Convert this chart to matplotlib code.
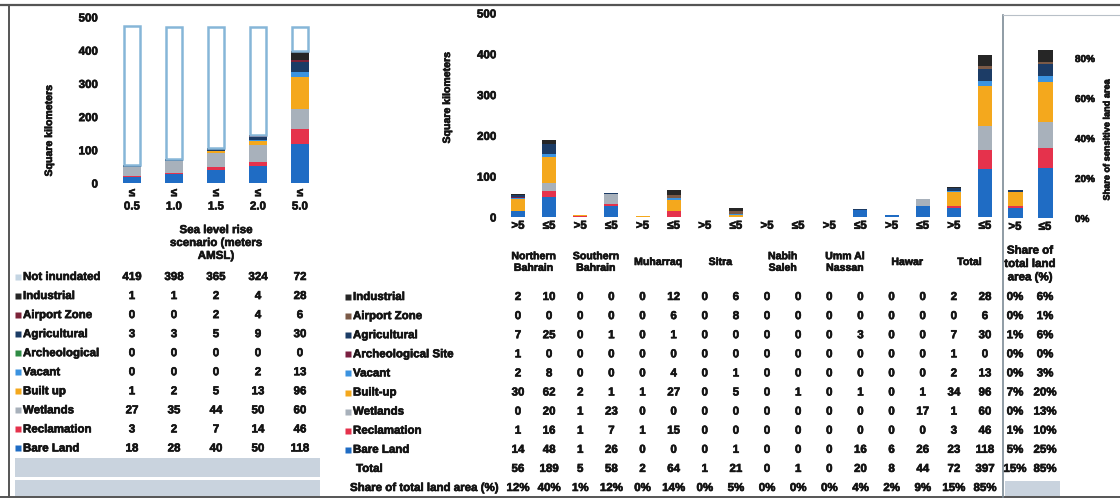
import matplotlib
matplotlib.use('Agg')
import matplotlib.pyplot as plt
import matplotlib.transforms as mtransforms
import matplotlib.patheffects as pe
import numpy as np

W, H = 1120, 500
plt.rcParams['font.family'] = ['Liberation Sans', 'DejaVu Sans']
plt.rcParams['font.weight'] = 'bold'
plt.rcParams['axes.labelweight'] = 'bold'
FS = 8.3
TXT = '#141414'
THICK = [pe.withStroke(linewidth=0.45, foreground=TXT)]

# ---------------- data: left panel (sea level rise scenarios) ----------------
scenarios = ['0.5', '1.0', '1.5', '2.0', '5.0']
scen_not_inundated = [419, 398, 365, 324, 72]
scen_industrial = [1, 1, 2, 4, 28]
scen_airport = [0, 0, 2, 4, 6]
scen_agricultural = [3, 3, 5, 9, 30]
scen_archeological = [0, 0, 0, 0, 0]
scen_vacant = [0, 0, 0, 2, 13]
scen_builtup = [1, 2, 5, 13, 96]
scen_wetlands = [27, 35, 44, 50, 60]
scen_reclamation = [3, 2, 7, 14, 46]
scen_bareland = [18, 28, 40, 50, 118]

# ---------------- data: middle panel (regions, >5 / <=5 m) ----------------
regions = ['Northern\nBahrain', 'Southern\nBahrain', 'Muharraq', 'Sitra',
           'Nabih\nSaleh', 'Umm Al\nNassan', 'Hawar', 'Total']
elev_labels = ['>5', '≤5']
reg_industrial = [2, 10, 0, 0, 0, 12, 0, 6, 0, 0, 0, 0, 0, 0, 2, 28]
reg_airport = [0, 0, 0, 0, 0, 6, 0, 8, 0, 0, 0, 0, 0, 0, 0, 6]
reg_agricultural = [7, 25, 0, 1, 0, 1, 0, 0, 0, 0, 0, 3, 0, 0, 7, 30]
reg_archeological = [1, 0, 0, 0, 0, 0, 0, 0, 0, 0, 0, 0, 0, 0, 1, 0]
reg_vacant = [2, 8, 0, 0, 0, 4, 0, 1, 0, 0, 0, 0, 0, 0, 2, 13]
reg_builtup = [30, 62, 2, 1, 1, 27, 0, 5, 0, 1, 0, 1, 0, 1, 34, 96]
reg_wetlands = [0, 20, 1, 23, 0, 0, 0, 0, 0, 0, 0, 0, 0, 17, 1, 60]
reg_reclamation = [1, 16, 1, 7, 1, 15, 0, 0, 0, 0, 0, 0, 0, 0, 3, 46]
reg_bareland = [14, 48, 1, 26, 0, 0, 0, 1, 0, 0, 0, 16, 6, 26, 23, 118]
reg_total = [56, 189, 5, 58, 2, 64, 1, 21, 0, 1, 0, 20, 8, 44, 72, 397]
reg_share = ['12%', '40%', '1%', '12%', '0%', '14%', '0%', '5%',
             '0%', '0%', '0%', '4%', '2%', '9%', '15%', '85%']

# ---------------- data: right panel (share of total land area, %) ----------------
sh_industrial = [0, 6]
sh_airport = [0, 1]
sh_agricultural = [1, 6]
sh_archeological = [0, 0]
sh_vacant = [0, 3]
sh_builtup = [7, 20]
sh_wetlands = [0, 13]
sh_reclamation = [1, 10]
sh_bareland = [5, 25]
sh_total = [15, 85]

# ---------------- colours ----------------
C_BARE = '#1f6cc4'
C_RECL = '#e5324c'
C_WET = '#a8b1bb'
C_BUILT = '#f4a81d'
C_VAC = '#3b93e0'
C_AGRI = '#1c3c66'
C_IND = '#262626'
C_ARCH_L = '#2f8c45'
C_AIRP_L = '#7c2338'
C_ARCH_M = '#7a1f40'
C_AIRP_M = '#7b5a47'
C_NOTIN = '#c4d5e3'
C_NOTIN_EDGE = '#86b6d8'
C_BAND = '#c9d3de'

fig = plt.figure(figsize=(W / 100, H / 100), dpi=100)


def ax_px(l, t, r, b):
    return fig.add_axes([l / W, 1 - b / H, (r - l) / W, (b - t) / H])


# overlay axes in pixel units (for frame and labels)
ov = ax_px(0, 0, W, H)
ov.set_xlim(0, W)
ov.set_ylim(H, 0)
ov.axis('off')
ov.set_zorder(-1)

# frame lines
ov.plot([0, W], [5, 5], color='#555555', lw=1.6)
ov.plot([9, 9], [5, 497], color='#555555', lw=1.4)
ov.plot([0, W], [497, 497], color='#555555', lw=1.4)
ov.plot([1003, 1003], [15, 497], color='#7d8b96', lw=1.2)
ov.plot([1003, W], [15, 15], color='#b8c0c8', lw=0.8)


def txt(x, y, s, **kw):
    kw.setdefault('fontsize', FS)
    kw.setdefault('color', TXT)
    t = ov.text(x, y, s, **kw)
    t.set_path_effects(THICK)
    return t


def style_axis(ax, size=FS):
    for s in ax.spines.values():
        s.set_visible(False)
    ax.tick_params(length=0, labelsize=size, colors=TXT)
    ax.set_facecolor('none')
    for lab in ax.get_xticklabels() + ax.get_yticklabels():
        lab.set_path_effects(THICK)


# ================= LEFT PANEL =================
ax1 = ax_px(105, 17, 322, 183)
xs1 = np.arange(len(scenarios))
left_stack = [
    ('Bare Land', scen_bareland, C_BARE),
    ('Reclamation', scen_reclamation, C_RECL),
    ('Wetlands', scen_wetlands, C_WET),
    ('Built up', scen_builtup, C_BUILT),
    ('Vacant', scen_vacant, C_VAC),
    ('Archeological', scen_archeological, C_ARCH_L),
    ('Agricultural', scen_agricultural, C_AGRI),
    ('Airport Zone', scen_airport, C_AIRP_L),
    ('Industrial', scen_industrial, C_IND),
]
bottom = np.zeros(len(scenarios))
for name, vals, col in left_stack:
    ax1.bar(xs1, vals, width=0.42, bottom=bottom, color=col, linewidth=0)
    bottom += np.array(vals)
ax1.bar(xs1, scen_not_inundated, width=0.38, bottom=bottom, color='white',
        edgecolor=C_NOTIN_EDGE, linewidth=1.8)
ax1.set_xlim((105 - 132) / 42, (322 - 132) / 42)
ax1.set_ylim(0, 500)
ax1.set_yticks([0, 100, 200, 300, 400, 500])
ax1.set_xticks(xs1)
ax1.set_xticklabels(['≤\n' + s for s in scenarios], linespacing=1.15)
style_axis(ax1)
ax1.tick_params(axis='y', pad=5)
ax1.tick_params(axis='x', pad=3)
txt(49, 131, 'Square kilometers', rotation=90, ha='center', va='center',
    fontsize=7.6)

tr1 = mtransforms.blended_transform_factory(ax1.transData, ov.transData)
txt(2, 243, 'Sea level rise\nscenario (meters\nAMSL)', transform=tr1,
    ha='center', va='center', linespacing=1.1)

left_rows = [
    ('Not inundated', scen_not_inundated, C_NOTIN),
    ('Industrial', scen_industrial, C_IND),
    ('Airport Zone', scen_airport, C_AIRP_L),
    ('Agricultural', scen_agricultural, C_AGRI),
    ('Archeological', scen_archeological, C_ARCH_L),
    ('Vacant', scen_vacant, C_VAC),
    ('Built up', scen_builtup, C_BUILT),
    ('Wetlands', scen_wetlands, C_WET),
    ('Reclamation', scen_reclamation, C_RECL),
    ('Bare Land', scen_bareland, C_BARE),
]
for r, (name, vals, col) in enumerate(left_rows):
    y = 277 + 19.05 * r
    ov.plot([18], [y], marker='s', ms=5, color=col, mec='none')
    txt(23, y, name, ha='left', va='center')
    for i, v in enumerate(vals):
        txt(i, y, str(v), transform=tr1, ha='center', va='center')
# shaded empty bands
ov.fill_between([15, 320], 458, 477, color=C_BAND, lw=0)
ov.fill_between([15, 320], 479.5, 497, color=C_BAND, lw=0)

# ================= MIDDLE PANEL =================
ax2 = ax_px(502, 13, 1000, 217)
n2 = len(reg_total)
xs2 = np.arange(n2)
mid_stack = [
    ('Bare Land', reg_bareland, C_BARE),
    ('Reclamation', reg_reclamation, C_RECL),
    ('Wetlands', reg_wetlands, C_WET),
    ('Built-up', reg_builtup, C_BUILT),
    ('Vacant', reg_vacant, C_VAC),
    ('Archeological Site', reg_archeological, C_ARCH_M),
    ('Agricultural', reg_agricultural, C_AGRI),
    ('Airport Zone', reg_airport, C_AIRP_M),
    ('Industrial', reg_industrial, C_IND),
]
bottom = np.zeros(n2)
for name, vals, col in mid_stack:
    ax2.bar(xs2, vals, width=0.45, bottom=bottom, color=col, linewidth=0)
    bottom += np.array(vals)
step2 = (985 - 518) / 15
ax2.set_xlim((502 - 518) / step2, (1000 - 518) / step2)
ax2.set_ylim(0, 500)
ax2.set_yticks([0, 100, 200, 300, 400, 500])
ax2.set_xticks(xs2)
ax2.set_xticklabels(elev_labels * len(regions))
style_axis(ax2)
ax2.tick_params(axis='y', pad=4)
ax2.tick_params(axis='x', pad=2)
txt(447, 98, 'Square kilometers', rotation=90, ha='center', va='center',
    fontsize=7.6)

tr2 = mtransforms.blended_transform_factory(ax2.transData, ov.transData)
for k, reg in enumerate(regions):
    txt(2 * k + 0.5, 262, reg, transform=tr2, ha='center', va='center',
        fontsize=7.6, linespacing=1.2)

mid_rows = [
    ('Industrial', reg_industrial, C_IND),
    ('Airport Zone', reg_airport, C_AIRP_M),
    ('Agricultural', reg_agricultural, C_AGRI),
    ('Archeological Site', reg_archeological, C_ARCH_M),
    ('Vacant', reg_vacant, C_VAC),
    ('Built-up', reg_builtup, C_BUILT),
    ('Wetlands', reg_wetlands, C_WET),
    ('Reclamation', reg_reclamation, C_RECL),
    ('Bare Land', reg_bareland, C_BARE),
    ('Total', reg_total, None),
    ('Share of total land area (%)', reg_share, None),
]
for r, (name, vals, col) in enumerate(mid_rows):
    y = 297 + 19.1 * r
    if col is not None:
        ov.plot([348], [y], marker='s', ms=5, color=col, mec='none')
        txt(353, y, name, ha='left', va='center')
    else:
        txt(356 if name == 'Total' else 350, y, name, ha='left', va='center')
    for i, v in enumerate(vals):
        txt(i, y, str(v), transform=tr2, ha='center', va='center')

# ================= RIGHT PANEL =================
ax3 = ax_px(1003, 15, 1068, 218)
xs3 = np.arange(2)
right_stack = [
    (sh_bareland, C_BARE), (sh_reclamation, C_RECL), (sh_wetlands, C_WET),
    (sh_builtup, C_BUILT), (sh_vacant, C_VAC), (sh_archeological, C_ARCH_M),
    (sh_agricultural, C_AGRI), (sh_airport, C_AIRP_M), (sh_industrial, C_IND),
]
bottom = np.zeros(2)
for vals, col in right_stack:
    ax3.bar(xs3, vals, width=0.5, bottom=bottom, color=col, linewidth=0)
    bottom += np.array(vals)
ax3.set_xlim((1003 - 1015) / 30, (1068 - 1015) / 30)
ax3.set_ylim(0, (218 - 15) / 2)
ax3.yaxis.tick_right()
ax3.set_yticks([0, 20, 40, 60, 80])
ax3.set_yticklabels(['0%', '20%', '40%', '60%', '80%'])
ax3.set_xticks(xs3)
ax3.set_xticklabels(elev_labels)
style_axis(ax3)
ax3.tick_params(axis='y', pad=5, labelsize=7.2)
ax3.tick_params(axis='x', pad=2)
txt(1107, 140, 'Share of sensitive land area', rotation=90, ha='center',
    va='center', fontsize=6.6)

tr3 = mtransforms.blended_transform_factory(ax3.transData, ov.transData)
txt(0.5, 264, 'Share of\ntotal land\narea (%)', transform=tr3,
    ha='center', va='center', linespacing=1.15)
right_rows = [sh_industrial, sh_airport, sh_agricultural, sh_archeological,
              sh_vacant, sh_builtup, sh_wetlands, sh_reclamation, sh_bareland,
              sh_total]
for r, vals in enumerate(right_rows):
    y = 297 + 19.1 * r
    for i, v in enumerate(vals):
        txt(i, y, f'{v}%', transform=tr3, ha='center', va='center')
ov.fill_between([1005, 1060], 481, 497, color=C_BAND, lw=0)

fig.savefig('out.png', dpi=100)
